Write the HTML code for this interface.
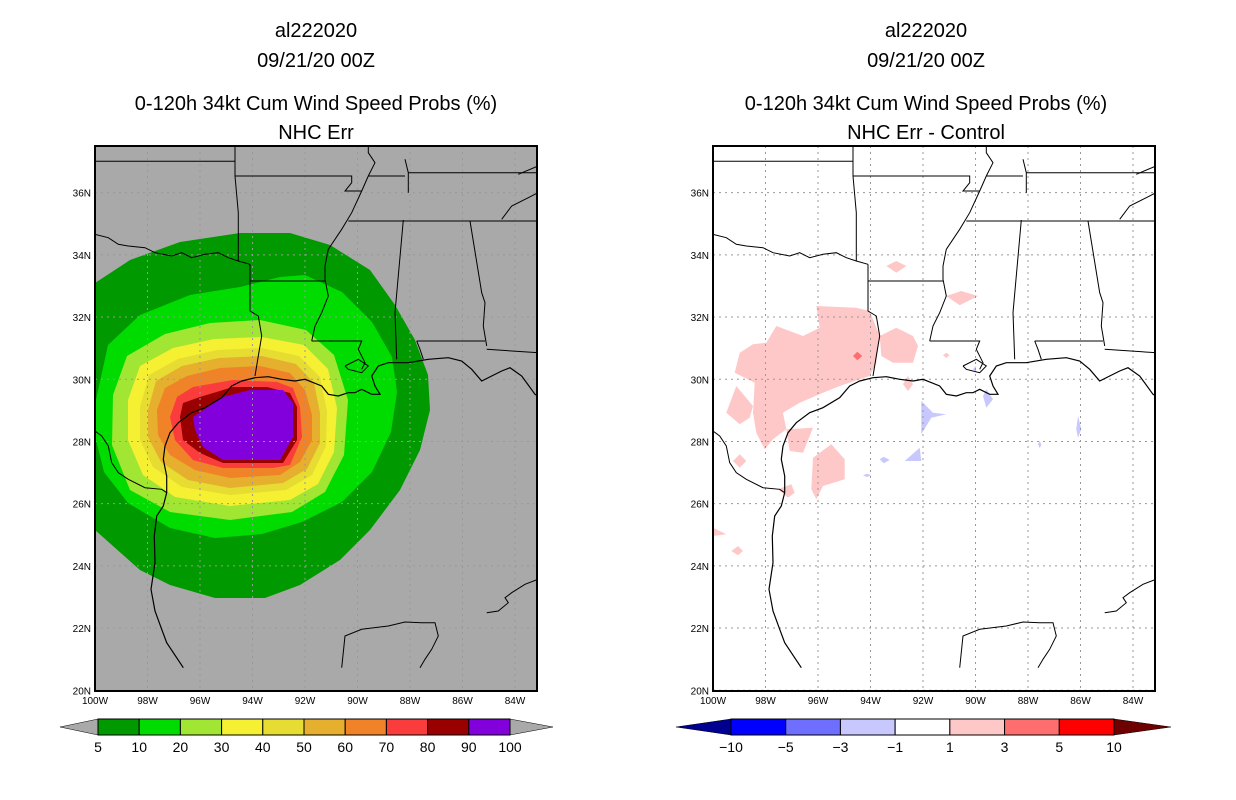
<!DOCTYPE html>
<html><head><meta charset="utf-8"><title>al222020 wind speed probs</title>
<style>
html,body{margin:0;padding:0;background:#fff;}
#root{position:relative;width:1236px;height:800px;overflow:hidden;}
svg text{font-family:"Liberation Sans",sans-serif;fill:#000;}
</style></head>
<body>
<div id="root">
<svg id="svg" width="1236" height="800" viewBox="0 0 1236 800" xmlns="http://www.w3.org/2000/svg">
<g font-size="20" text-anchor="middle">
<text x="316" y="37">al222020</text>
<text x="316" y="67">09/21/20 00Z</text>
<text x="316" y="110">0-120h 34kt Cum Wind Speed Probs (%)</text>
<text x="316" y="139">NHC Err</text>
</g>
<g font-size="20" text-anchor="middle">
<text x="926" y="37">al222020</text>
<text x="926" y="67">09/21/20 00Z</text>
<text x="926" y="110">0-120h 34kt Cum Wind Speed Probs (%)</text>
<text x="926" y="139">NHC Err - Control</text>
</g>
<g id="left"></g>
<g id="right"></g>
<g id="cbl"></g>
<g id="cbr"></g>
</svg>
</div>
<script>
// ---- data ----
const lonTicks=[100,98,96,94,92,90,88,86,84];
const latTicks=[20,22,24,26,28,30,32,34,36];
const probLevels=[5,10,20,30,40,50,60,70,80,90,100];
const probColors=["#009900","#00dc00","#a0e632","#f5f032","#e6dc32","#e6af2d","#f08228","#fa3c3c","#9a0000","#8200dc"];
const diffLevels=[-10,-5,-3,-1,1,3,5,10];
const diffColors=["#000090","#0000ff","#6e6eff","#c8c8ff","#ffffff","#ffc8c8","#ff6e6e","#ff0000","#6e0000"];
// contour polygons (absolute pixels, left panel), one per colour band
const c5=[[95,283],[130,260],[180,242],[240,233],[290,233],[330,245],[370,270],[395,305],[415,340],[428,375],[430,410],[420,450],[400,490],[370,530],[340,560],[300,585],[265,598],[215,598],[170,585],[140,570],[95,530]];
const c10=[[96,400],[108,345],[140,315],[190,295],[240,287],[280,277],[305,275],[342,292],[372,322],[392,357],[397,392],[391,432],[372,472],[342,502],[302,522],[262,534],[215,538],[170,528],[128,503],[104,472],[96,440]];
const c20=[[113,395],[127,356],[165,334],[210,323],[260,320],[306,330],[334,355],[348,400],[344,455],[325,492],[292,512],[230,520],[170,512],[130,490],[112,445]];
const c30=[[128,400],[140,366],[173,348],[214,339],[262,337],[304,345],[328,369],[337,408],[334,452],[318,484],[290,500],[230,506],[175,497],[143,475],[128,440]];
const c40=[[140,407],[149,375],[178,359],[217,350],[262,348],[299,356],[320,377],[327,411],[326,446],[312,475],[286,490],[230,495],[182,487],[153,467],[140,440]];
const c50=[[148,410],[156,381],[182,366],[219,358],[262,356],[296,364],[314,383],[320,413],[320,443],[307,469],[283,483],[230,488],[188,480],[161,462],[148,437]];
const c60=[[157,410],[165,388],[187,376],[220,368],[260,366],[290,373],[305,390],[312,415],[312,440],[300,462],[280,475],[230,478],[195,470],[170,455],[158,435]];
const c70=[[170,417],[177,397],[193,387],[233,380],[277,382],[293,388],[300,407],[302,437],[290,465],[273,468],[223,468],[193,460],[175,440]];
const c80=[[180,417],[183,403],[200,397],[233,387],[267,387],[290,393],[297,407],[297,440],[283,463],[223,463],[200,453],[183,440]];
const c90=[[193,417],[223,397],[250,390],[283,390],[293,403],[293,437],[280,460],[223,460],[203,447],[195,430]];
const probContours=[c5,c10,c20,c30,c40,c50,c60,c70,c80,c90];
// difference blobs (zoom-local coords x3 on right panel)
const pinkBlobs=[
[[310,480],[430,485],[470,495],[500,570],[490,650],[470,690],[380,720],[330,740],[260,770],[210,800],[220,850],[180,880],[155,910],[130,860],[120,800],[125,710],[65,680],[80,620],[120,595],[160,590],[190,540],[270,570],[320,545]],
[[500,570],[550,545],[600,570],[615,600],[600,650],[540,650],[505,630]],
[[40,800],[70,720],[120,780],[110,815],[80,835]],
[[220,850],[300,845],[270,920],[230,915]],
[[300,935],[355,895],[395,940],[395,1000],[330,1020],[310,1060],[295,1030]],
[[520,360],[550,345],[580,360],[550,380]],
[[700,450],[745,435],[795,450],[740,478]],
[[0,1145],[40,1165],[0,1170]],
[[55,1215],[75,1200],[90,1215],[75,1228]],
[[60,945],[80,925],[100,945],[80,965]],
[[195,1030],[235,1015],[245,1040],[225,1055]],
[[570,715],[585,690],[600,715],[585,735]],
[[690,628],[700,620],[710,628],[700,636]]];
const redBlobs=[[[420,630],[433,617],[448,630],[433,643]]];
const blueBlobs=[
[[625,765],[660,800],[700,805],[655,815],[625,865]],
[[575,945],[620,905],[625,945]],
[[500,940],[512,932],[530,942],[512,952]],
[[450,988],[462,983],[475,988],[462,993]],
[[810,750],[820,730],[840,760],[820,785]],
[[1090,850],[1095,810],[1105,850],[1095,875]],
[[975,895],[980,885],[985,897],[980,907]],
[[780,670],[788,660],[790,680]]];
// geography (zoom-local coords x3)
const coast=[[265,1565],[215,1490],[200,1450],[180,1395],[168,1330],[180,1250],[178,1170],[185,1110],[205,1080],[215,1040],[215,990],[205,940],[210,900],[225,860],[250,830],[290,800],[330,785],[380,755],[410,720],[440,705],[480,695],[520,692],[560,700],[600,705],[630,700],[680,720],[700,745],[730,750],[760,740],[780,740],[800,730],[830,745],[855,745],[840,720],[830,690],[850,660],[880,650],[940,650],[1000,640],[1060,635],[1100,645],[1130,670],[1160,705],[1190,690],[1220,675],[1245,665],[1280,690],[1320,745],[1329,750]];
const lines=[
[[740,1565],[750,1470],[800,1450],[880,1440],[930,1428],[980,1430],[1020,1430],[1030,1470],[1010,1510],[990,1540],[975,1565]],
[[1175,1400],[1210,1395],[1240,1370],[1230,1355],[1250,1340],[1290,1315],[1329,1300]],
[[1220,220],[1250,180],[1300,155],[1329,140]],[[1270,85],[1329,60]],
[[0,265],[40,275],[70,295],[100,300],[150,305],[180,320],[230,330],[260,320],[290,335],[330,325],[370,320],[400,335],[430,345],[465,355]],
[[465,355],[465,495],[490,510],[500,570],[490,630],[480,690]],
[[0,46],[420,46]],[[420,0],[420,90],[430,200],[430,345]],
[[420,90],[770,90],[770,110],[750,135],[800,135]],
[[820,0],[820,20],[840,50],[820,90],[800,135],[770,200],[740,250],[700,310],[690,360],[690,400],[700,450],[680,500],[660,540],[650,585]],
[[820,90],[930,90]],[[930,40],[940,80],[940,140]],
[[465,405],[690,405]],
[[650,585],[800,585],[790,610],[810,650],[800,670]],
[[925,222],[900,500],[905,640]],
[[760,225],[1329,225]],
[[1125,225],[1160,440],[1170,470],[1165,540],[1175,600]],
[[965,585],[1170,585]],[[965,585],[975,610],[985,640]],
[[1175,610],[1329,620]],
[[940,80],[1329,80]],
[[0,855],[20,870],[40,900],[50,950],[70,980],[100,1000],[150,1025],[200,1030],[215,1040]],
[[750,660],[790,640],[820,660],[800,680],[760,670],[750,660]]];

// ---- axis functions ----
const W=442,H=545;
function xLon(lon){return (100-lon)*26.25;}
function yLat(lat){return (37.5-lat)*31.1;}
const NS='http://www.w3.org/2000/svg';
function mk(tag,parent){const e=document.createElementNS(NS,tag);parent.appendChild(e);return e;}
function pts(a,ox,oy){return a.map(p=>(p[0]-ox).toFixed(1)+','+(p[1]-oy).toFixed(1)).join(' ');}
function zpts(a){return a.map(p=>(p[0]/3).toFixed(1)+','+(p[1]/3).toFixed(1)).join(' ');}

function buildMap(g,ox,oy,bg,fillFn){
  g.setAttribute('transform','translate('+ox+','+oy+')');
  const defsClip=mk('clipPath',g);defsClip.setAttribute('id','clip'+ox);
  const cr=mk('rect',defsClip);cr.setAttribute('width',W);cr.setAttribute('height',H);
  const bgR=mk('rect',g);bgR.setAttribute('width',W);bgR.setAttribute('height',H);bgR.setAttribute('fill',bg);
  
  
  const inner=mk('g',g);inner.setAttribute('clip-path','url(#clip'+ox+')');
  fillFn(inner);
  lonTicks.forEach(l=>{const x=xLon(l);const ln=mk('line',inner);ln.setAttribute('x1',x);ln.setAttribute('x2',x);ln.setAttribute('y1',0);ln.setAttribute('y2',H);ln.setAttribute('stroke','#999');ln.setAttribute('stroke-dasharray','2,4');
    
    });
  latTicks.forEach(l=>{const y=yLat(l);const ln=mk('line',inner);ln.setAttribute('x1',0);ln.setAttribute('x2',W);ln.setAttribute('y1',y);ln.setAttribute('y2',y);ln.setAttribute('stroke','#999');ln.setAttribute('stroke-dasharray','2,4');
    
    });
  const c=mk('polyline',inner);c.setAttribute('points',zpts(coast));c.setAttribute('fill','none');c.setAttribute('stroke','#000');c.setAttribute('stroke-width','1.2');
  
  
  lines.forEach((l,i)=>{const p=mk('polyline',inner);p.setAttribute('points',zpts(l));p.setAttribute('fill','none');p.setAttribute('stroke','#000');p.setAttribute('stroke-width','1');
    
    });
  const fr=mk('rect',g);fr.setAttribute('width',W);fr.setAttribute('height',H);fr.setAttribute('fill','none');fr.setAttribute('stroke','#000');fr.setAttribute('stroke-width','2');
  
  
  lonTicks.forEach(l=>{const t=mk('text',g);t.setAttribute('x',xLon(l));t.setAttribute('y',H+13);t.setAttribute('font-size','10');t.setAttribute('text-anchor','middle');t.textContent=l+'W';
    
    });
  latTicks.forEach(l=>{const t=mk('text',g);t.setAttribute('x',-4);t.setAttribute('y',yLat(l)+4);t.setAttribute('font-size','10');t.setAttribute('text-anchor','end');t.textContent=l+'N';
    
    });
}
buildMap(document.getElementById('left'),95,146,'#a9a9a9',inner=>{
  probContours.forEach((c,i)=>{const p=mk('polygon',inner);p.setAttribute('points',pts(c,95,146));p.setAttribute('fill',probColors[i]);
    
    });
});
buildMap(document.getElementById('right'),713,146,'#ffffff',inner=>{
  [[pinkBlobs,diffColors[5],'positive-diff-area'],[redBlobs,diffColors[6],'strong-positive-diff-area'],[blueBlobs,diffColors[3],'negative-diff-area']].forEach(set=>{
    set[0].forEach(b=>{const p=mk('polygon',inner);p.setAttribute('points',zpts(b));p.setAttribute('fill',set[1]);
      
      });
  });
});
function colorbar(g,x0,x1,tipL,tipR,colors,labels,triColorL,triColorR){
  const y0=719,y1=735,ym=727,n=colors.length,sw=(x1-x0)/n;
  const pl=mk('polygon',g);pl.setAttribute('points',x0+','+y0+' '+tipL+','+ym+' '+x0+','+y1);pl.setAttribute('fill',triColorL);pl.setAttribute('stroke','#000');pl.setAttribute('stroke-width','0.5');
  
  
  const pr=mk('polygon',g);pr.setAttribute('points',x1+','+y0+' '+tipR+','+ym+' '+x1+','+y1);pr.setAttribute('fill',triColorR);pr.setAttribute('stroke','#000');pr.setAttribute('stroke-width','0.5');
  
  
  colors.forEach((c,i)=>{const r=mk('rect',g);r.setAttribute('x',x0+i*sw);r.setAttribute('y',y0);r.setAttribute('width',sw);r.setAttribute('height',y1-y0);r.setAttribute('fill',c);r.setAttribute('stroke','#000');r.setAttribute('stroke-width','1');
    
    });
  labels.forEach((l,i)=>{const t=mk('text',g);t.setAttribute('x',x0+i*sw);t.setAttribute('y',752);t.setAttribute('font-size','14');t.setAttribute('text-anchor','middle');t.textContent=l;
    
    });
}
colorbar(document.getElementById('cbl'),98,510,60,553,probColors,probLevels,'#a9a9a9','#a9a9a9');
colorbar(document.getElementById('cbr'),731,1114,676,1171,diffColors.slice(1,8),diffLevels.map(v=>v<0?'\u2212'+(-v):''+v),diffColors[0],diffColors[8]);
</script>
</body></html>
